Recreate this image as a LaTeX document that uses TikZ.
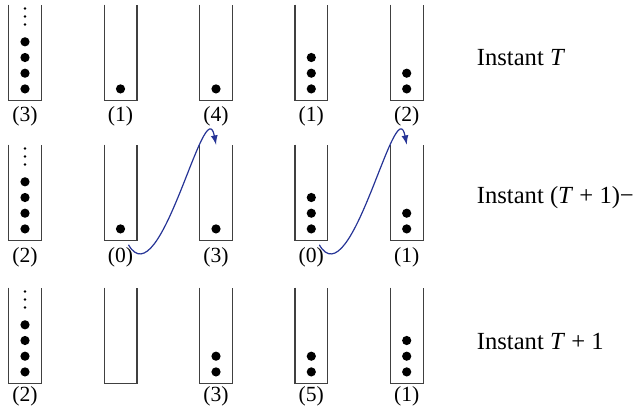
\documentclass[tikz,border=0pt]{standalone}
\usepackage{fontspec}
\setmainfont{Liberation Serif}
\usepackage{tikz}
\definecolor{flowblue}{RGB}{38,52,150}

\begin{document}
\begin{tikzpicture}[x=0.5pt,y=-0.5pt]
  \tikzstyle{tube}=[minimum width=16pt,minimum height=47.5pt,inner sep=0pt]
  \tikzstyle{wall}=[draw=black!75,line width=0.6pt]
  \tikzstyle{count}=[inner sep=1pt,font=\fontsize{10.8}{12}\selectfont]
  \tikzstyle{instant}=[anchor=west,inner sep=0pt,font=\fontsize{12.3}{14}\selectfont]
  \tikzstyle{move}=[draw=flowblue,line width=0.6pt,-latex]
  \useasboundingbox (0,0) rectangle (638,414);

  % instant T
  \node[tube] (t11) at (25,52.5) {};
  \draw[wall] (t11.north west) |- (t11.south east) -- (t11.north east);
  \fill (t11.south) ++(0,-11.5) circle (2.3pt) ++(0,-15.7) circle (2.3pt) ++(0,-15.7) circle (2.3pt) ++(0,-15.7) circle (2.3pt)
    ++(0,-17.4) circle (0.7pt) ++(0,-8) circle (0.7pt) ++(0,-8) circle (0.7pt);
  \node[count] (l11) at (25,116) {(3)};

  \node[tube] (t12) at (120.5,52.5) {};
  \draw[wall] (t12.north west) |- (t12.south east) -- (t12.north east);
  \fill (t12.south) ++(0,-11.5) circle (2.3pt);
  \node[count] (l12) at (120.5,116) {(1)};

  \node[tube] (t13) at (216,52.5) {};
  \draw[wall] (t13.north west) |- (t13.south east) -- (t13.north east);
  \fill (t13.south) ++(0,-11.5) circle (2.3pt);
  \node[count] (l13) at (216,116) {(4)};

  \node[tube] (t14) at (311.3,52.5) {};
  \draw[wall] (t14.north west) |- (t14.south east) -- (t14.north east);
  \fill (t14.south) ++(0,-11.5) circle (2.3pt) ++(0,-15.7) circle (2.3pt) ++(0,-15.7) circle (2.3pt);
  \node[count] (l14) at (311.3,116) {(1)};

  \node[tube] (t15) at (406.7,52.5) {};
  \draw[wall] (t15.north west) |- (t15.south east) -- (t15.north east);
  \fill (t15.south) ++(0,-11.5) circle (2.3pt) ++(0,-15.7) circle (2.3pt);
  \node[count] (l15) at (406.7,116) {(2)};

  \node[instant] (i1) at (476.5,58) {Instant \textit{T}};

  % instant (T+1)-
  \node[tube] (t21) at (25,192.5) {};
  \draw[wall] (t21.north west) |- (t21.south east) -- (t21.north east);
  \fill (t21.south) ++(0,-11.5) circle (2.3pt) ++(0,-15.7) circle (2.3pt) ++(0,-15.7) circle (2.3pt) ++(0,-15.7) circle (2.3pt)
    ++(0,-17.4) circle (0.7pt) ++(0,-8) circle (0.7pt) ++(0,-8) circle (0.7pt);
  \node[count] (l21) at (25,257) {(2)};

  \node[tube] (t22) at (120.5,192.5) {};
  \draw[wall] (t22.north west) |- (t22.south east) -- (t22.north east);
  \fill (t22.south) ++(0,-11.5) circle (2.3pt);
  \node[count] (l22) at (120.5,257) {(0)};

  \node[tube] (t23) at (216,192.5) {};
  \draw[wall] (t23.north west) |- (t23.south east) -- (t23.north east);
  \fill (t23.south) ++(0,-11.5) circle (2.3pt);
  \node[count] (l23) at (216,257) {(3)};

  \node[tube] (t24) at (311.3,192.5) {};
  \draw[wall] (t24.north west) |- (t24.south east) -- (t24.north east);
  \fill (t24.south) ++(0,-11.5) circle (2.3pt) ++(0,-15.7) circle (2.3pt) ++(0,-15.7) circle (2.3pt);
  \node[count] (l24) at (311.3,257) {(0)};

  \node[tube] (t25) at (406.7,192.5) {};
  \draw[wall] (t25.north west) |- (t25.south east) -- (t25.north east);
  \fill (t25.south) ++(0,-11.5) circle (2.3pt) ++(0,-15.7) circle (2.3pt);
  \node[count] (l25) at (406.7,257) {(1)};

  \draw[move] ([xshift=-3.5pt]l22.north east) .. controls +(32,55) and +(-11,-58) .. (t23.north);
  \draw[move] ([xshift=-3.5pt]l24.north east) .. controls +(32,55) and +(-11,-58) .. (t25.north);

  \node[instant] (i2) at (476.5,198) {Instant (\textit{T}\hspace{0.25em}+\hspace{0.25em}1)−};

  % instant T+1
  \node[tube] (t31) at (25,335.5) {};
  \draw[wall] (t31.north west) |- (t31.south east) -- (t31.north east);
  \fill (t31.south) ++(0,-11.5) circle (2.3pt) ++(0,-15.7) circle (2.3pt) ++(0,-15.7) circle (2.3pt) ++(0,-15.7) circle (2.3pt)
    ++(0,-17.4) circle (0.7pt) ++(0,-8) circle (0.7pt) ++(0,-8) circle (0.7pt);
  \node[count] (l31) at (25,396) {(2)};

  \node[tube] (t32) at (120.5,335.5) {};
  \draw[wall] (t32.north west) |- (t32.south east) -- (t32.north east);

  \node[tube] (t33) at (216,335.5) {};
  \draw[wall] (t33.north west) |- (t33.south east) -- (t33.north east);
  \fill (t33.south) ++(0,-11.5) circle (2.3pt) ++(0,-15.7) circle (2.3pt);
  \node[count] (l33) at (216,396) {(3)};

  \node[tube] (t34) at (311.3,335.5) {};
  \draw[wall] (t34.north west) |- (t34.south east) -- (t34.north east);
  \fill (t34.south) ++(0,-11.5) circle (2.3pt) ++(0,-15.7) circle (2.3pt);
  \node[count] (l34) at (311.3,396) {(5)};

  \node[tube] (t35) at (406.7,335.5) {};
  \draw[wall] (t35.north west) |- (t35.south east) -- (t35.north east);
  \fill (t35.south) ++(0,-11.5) circle (2.3pt) ++(0,-15.7) circle (2.3pt) ++(0,-15.7) circle (2.3pt);
  \node[count] (l35) at (406.7,396) {(1)};

  \node[instant] (i3) at (476.5,341.5) {Instant \textit{T}\hspace{0.25em}+\hspace{0.25em}1};
\end{tikzpicture}
\end{document}
